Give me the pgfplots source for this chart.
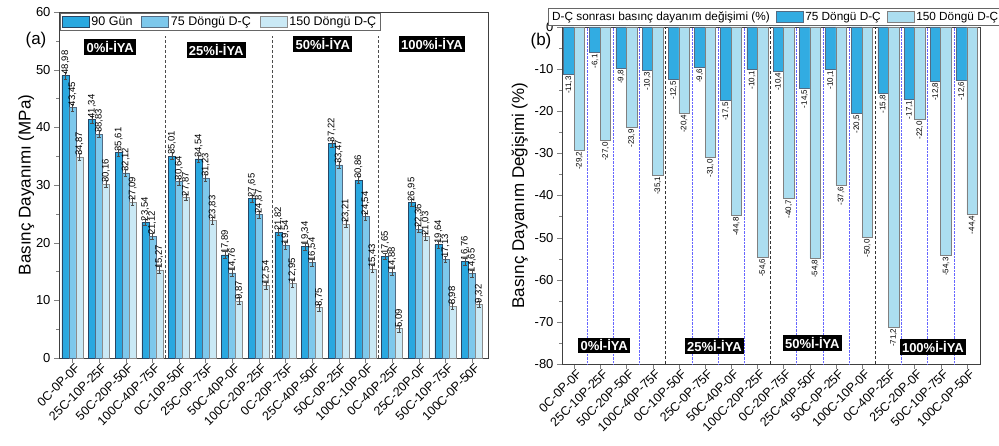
\documentclass[border=0pt]{standalone}
\usepackage{pgfplots}
\pgfplotsset{compat=1.18}
\usepackage{pgfplotstable}
\usepackage{fontspec}
\setmainfont{Liberation Sans}

\definecolor{cA}{RGB}{41,168,224}
\definecolor{cB}{RGB}{125,200,236}
\definecolor{cC}{RGB}{202,233,245}
\definecolor{rA}{RGB}{50,172,226}
\definecolor{rB}{RGB}{172,222,240}
\definecolor{edgeA}{RGB}{40,70,100}

\pgfplotstableread{
x a b c e
0 48.98 43.45 34.87 0.6
1 41.34 38.83 30.16 0.6
2 35.61 32.12 27.09 0.6
3 23.54 21.12 15.27 0.6
4 35.01 30.64 27.87 0.6
5 34.54 31.23 23.83 0.6
6 17.89 14.76 9.87 0.6
7 27.65 24.87 12.54 0.6
8 21.82 19.54 12.95 0.6
9 19.34 16.54 8.75 0.6
10 37.22 33.47 23.21 0.6
11 30.86 24.54 15.43 0.6
12 17.65 14.88 5.09 0.6
13 26.95 22.36 21.03 0.6
14 19.64 17.13 8.98 0.6
15 16.76 14.65 9.32 0.6
}\dataA

\pgfplotstableread{
x d c
0 -11.3 -29.2
1 -6.1 -27.0
2 -9.8 -23.9
3 -10.3 -35.1
4 -12.5 -20.4
5 -9.6 -31.0
6 -17.5 -44.8
7 -10.1 -54.6
8 -10.4 -40.7
9 -14.5 -54.8
10 -10.1 -37.6
11 -20.5 -50.0
12 -15.8 -71.2
13 -17.1 -22.0
14 -12.8 -54.3
15 -12.6 -44.4
}\dataB

\tikzset{grp/.style={fill=black, text=white, font=\bfseries\fontsize{13}{13}\selectfont, inner sep=2.3pt}}

\pgfplotsset{
  barlegend/.style={legend image code/.code={\draw[##1] (0pt,-5pt) rectangle (27pt,6pt);}},
  common/.style={
    scale only axis, anchor=south west,
    xtick={0,...,15},
    xticklabels={0C-0P-0F,25C-10P-25F,50C-20P-50F,100C-40P-75F,0C-10P-50F,25C-0P-75F,50C-40P-0F,100C-20P-25F,0C-20P-75F,25C-40P-50F,50C-0P-25F,100C-10P-0F,0C-40P-25F,25C-20P-0F,50C-10P-75F,100C-0P-50F},
    x tick label style={rotate=45, anchor=north east, font=\fontsize{12.5}{12.5}\selectfont, inner sep=1pt, xshift=3pt},
    y tick label style={font=\fontsize{13}{13}\selectfont},
    ylabel style={font=\fontsize{17}{17}\selectfont},
    tick align=outside, xtick pos=bottom, ytick pos=left,
    major tick length=5pt, minor tick length=3pt,
    minor y tick num=1,
    axis line style={black!75, line width=0.8pt},
    /pgf/number format/assume math mode=true,
    ybar,
    barlegend,
  },
}

\begin{document}
\begin{tikzpicture}
\path[use as bounding box] (0,0) rectangle (999pt,445pt);

\begin{axis}[common,
  at={(59pt,87pt)}, width=429pt, height=346pt,
  xmin=-0.5, xmax=15.6, ymin=0, ymax=60,
  ytick={0,10,...,60},
  ylabel={Basınç Dayanımı (MPa)},
  ylabel shift=-5pt,
  bar width=7pt,
  legend style={at={(0.003,0.997)}, anchor=north west, legend columns=3,
    font=\fontsize{12.5}{12.5}\selectfont, draw=black!60, inner sep=1.5pt,
    /tikz/every even column/.append style={column sep=7pt}},
  nodes near coords={\pgfmathprintnumber[fixed,fixed zerofill,precision=2,use comma,assume math mode=true]{\pgfplotspointmeta}},
  every node near coord/.append style={rotate=90, anchor=west, font=\fontsize{9.5}{9.5}\selectfont, inner sep=1pt, black},
  error bars/error bar style={line width=0.5pt, black!70},
  error bars/error mark options={rotate=90, mark size=1.8pt, line width=0.5pt, black!70},
]
\addplot[fill=cA, draw=edgeA, line width=0.5pt, bar shift=-7pt,
  error bars/.cd, y dir=both, y explicit] table[x=x, y=a, y error=e]{\dataA};
\addlegendentry{90 Gün}
\addplot[fill=cB, draw=edgeA!80, line width=0.5pt, bar shift=0pt,
  error bars/.cd, y dir=both, y explicit] table[x=x, y=b, y error=e]{\dataA};
\addlegendentry{75 Döngü D-Ç}
\addplot[fill=cC, draw=black!45, line width=0.5pt, bar shift=7pt,
  error bars/.cd, y dir=both, y explicit] table[x=x, y=c, y error=e]{\dataA};
\addlegendentry{150 Döngü D-Ç}
\draw[densely dashed, black!70, line width=0.8pt] (axis cs:3.5,0) -- (axis cs:3.5,55.8);
\draw[densely dashed, black!70, line width=0.8pt] (axis cs:7.5,0) -- (axis cs:7.5,55.8);
\draw[densely dashed, black!70, line width=0.8pt] (axis cs:11.5,0) -- (axis cs:11.5,55.8);
\node[grp] at (axis cs:1.42,53.9) {0\%İ-İYA};
\node[grp] at (axis cs:5.4,53.4) {25\%İ-İYA};
\node[grp] at (axis cs:9.4,54.4) {50\%İ-İYA};
\node[grp] at (axis cs:13.5,54.4) {100\%İ-İYA};
\end{axis}

\begin{axis}[common,
  at={(562pt,81pt)}, width=418pt, height=337pt,
  xmin=-0.46, xmax=15.5, ymin=-80, ymax=0,
  ytick={-80,-70,...,0},
  ylabel={Basınç Dayanım Değişimi (\%)},
  bar width=10.5pt,
  extra x ticks={0.5,1.5,2.5,4.5,5.5,6.5,8.5,9.5,10.5,12.5,13.5,14.5},
  extra x tick labels={},
  extra x tick style={grid=major, major tick length=0pt, major grid style={blue!60, densely dotted, line width=0.5pt}},
  legend style={at={(0.51,1.004)}, anchor=south, legend columns=3,
    font=\fontsize{11.8}{11.8}\selectfont, draw=black!60, inner sep=1.5pt,
    /tikz/every even column/.append style={column sep=4pt}},
  nodes near coords={\pgfmathprintnumber[fixed,fixed zerofill,precision=1,use comma,assume math mode=true]{\pgfplotspointmeta}},
  every node near coord/.append style={rotate=90, anchor=east, font=\fontsize{8}{8}\selectfont, inner sep=1.5pt, black},
]
\addlegendimage{empty legend}
\addlegendentry{D-Ç sonrası basınç dayanım değişimi (\%)}
\addplot[fill=rA, draw=edgeA!80, line width=0.5pt, bar shift=-5.25pt] table[x=x, y=d]{\dataB};
\addlegendentry{75 Döngü D-Ç}
\addplot[fill=rB, draw=black!50, line width=0.5pt, bar shift=5.25pt] table[x=x, y=c]{\dataB};
\addlegendentry{150 Döngü D-Ç}
\draw[densely dashed, black!80, line width=0.8pt] (axis cs:3.5,-80) -- (axis cs:3.5,0);
\draw[densely dashed, black!80, line width=0.8pt] (axis cs:7.5,-80) -- (axis cs:7.5,0);
\draw[densely dashed, black!80, line width=0.8pt] (axis cs:11.5,-80) -- (axis cs:11.5,0);
\node[grp] at (axis cs:1.15,-75.6) {0\%İ-İYA};
\node[grp] at (axis cs:5.36,-75.8) {25\%İ-İYA};
\node[grp] at (axis cs:9.1,-75) {50\%İ-İYA};
\node[grp] at (axis cs:13.7,-76) {100\%İ-İYA};
\end{axis}

\node[font=\fontsize{17}{17}\selectfont] at (36pt,405pt) {(a)};
\node[font=\fontsize{17}{17}\selectfont] at (541pt,404pt) {(b)};
\end{tikzpicture}
\end{document}
